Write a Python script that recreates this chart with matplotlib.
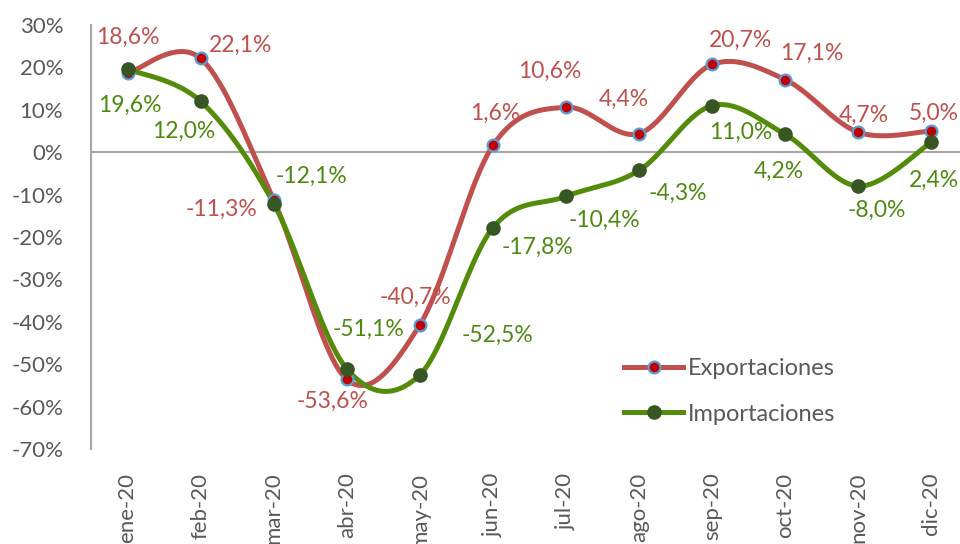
import numpy as np
import matplotlib
matplotlib.use('Agg')
import matplotlib.pyplot as plt

plt.rcParams['font.family'] = ['Lato', 'DejaVu Sans']

months = ['ene-20', 'feb-20', 'mar-20', 'abr-20', 'may-20', 'jun-20',
          'jul-20', 'ago-20', 'sep-20', 'oct-20', 'nov-20', 'dic-20']
exportaciones = [18.6, 22.1, -11.3, -53.6, -40.7, 1.6, 10.6, 4.4, 20.7, 17.1, 4.7, 5.0]
importaciones = [19.6, 12.0, -12.1, -51.1, -52.5, -17.8, -10.4, -4.3, 11.0, 4.2, -8.0, 2.4]
y_ticks = [30, 20, 10, 0, -10, -20, -30, -40, -50, -60, -70]

# label offsets in pixels (dx, dy), as placed in the original
exp_offsets = [(0, 36), (40, 13), (-52, -9), (-14, -22), (-4, 27), (2, 32),
               (-16, 36), (-15, 34), (28, 24), (27, 26), (5, 17), (2, 18)]
imp_offsets = [(2, -36), (-17, -30), (38, 27), (22, 40), (78, 39), (45, -20),
               (38, -24), (39, -23), (29, -27), (-6, -37), (18, -24), (2, -38)]

RED_LINE = '#C0504D'
GREEN_LINE = '#548B0A'
GREEN_TEXT = '#4F8A10'
GRAY = '#595959'


def smooth(y, n=40):
    """Excel-like smoothed line: cubic Bezier through the points."""
    y = np.asarray(y, dtype=float)
    x = np.arange(len(y), dtype=float)
    pts = np.column_stack([x, y])
    out = []
    for i in range(len(pts) - 1):
        p0 = pts[i - 1] if i > 0 else pts[i]
        p1 = pts[i]
        p2 = pts[i + 1]
        p3 = pts[i + 2] if i + 2 < len(pts) else pts[i + 1]
        c1 = p1 + (p2 - p0) / 6
        c2 = p2 - (p3 - p1) / 6
        t = np.linspace(0, 1, n)[:, None]
        seg = ((1 - t) ** 3) * p1 + 3 * ((1 - t) ** 2) * t * c1 + 3 * (1 - t) * t ** 2 * c2 + t ** 3 * p2
        out.append(seg if i == 0 else seg[1:])
    s = np.vstack(out)
    return s[:, 0], s[:, 1]


fig = plt.figure(figsize=(9.6, 5.44), dpi=100)
ax = fig.add_axes([91 / 960, 95 / 544, 877 / 960, 424 / 544])

x = np.arange(len(months))

sx, sy = smooth(exportaciones)
ax.plot(sx, sy, color=RED_LINE, lw=3.6, solid_capstyle='round', zorder=3)
sx, sy = smooth(importaciones)
ax.plot(sx, sy, color=GREEN_LINE, lw=3.6, solid_capstyle='round', zorder=4)

ax.plot(x, exportaciones, 'o', ms=8.5, mfc='#C00000', mec='#5B9BD5', mew=1.6, zorder=5)
ax.plot(x, importaciones, 'o', ms=9.5, mfc='#375623', mec='#375623', mew=1, zorder=6)

for xi, v, (dx, dy) in zip(x, exportaciones, exp_offsets):
    ax.annotate(f'{v:.1f}%'.replace('.', ','), (xi, v), xytext=(dx, dy),
                textcoords='offset pixels', ha='center', va='center',
                fontsize=16.5, color=RED_LINE, zorder=7)
for xi, v, (dx, dy) in zip(x, importaciones, imp_offsets):
    ax.annotate(f'{v:.1f}%'.replace('.', ','), (xi, v), xytext=(dx, dy),
                textcoords='offset pixels', ha='center', va='center',
                fontsize=16.5, color=GREEN_TEXT, zorder=7)

# legend entries mimic the Excel look
ax.plot([], [], color=RED_LINE, lw=3.6, marker='o', ms=8.5, mfc='#C00000',
        mec='#5B9BD5', mew=1.6, label='Exportaciones')
ax.plot([], [], color=GREEN_LINE, lw=3.6, marker='o', ms=9.5, mfc='#375623',
        mec='#375623', label='Importaciones')
leg = ax.legend(loc='upper left', bbox_to_anchor=(0.608, 0.215), frameon=False,
                fontsize=17, handlelength=2.5, handletextpad=0.2, labelspacing=1.05,
                borderaxespad=0, borderpad=0)
for t in leg.get_texts():
    t.set_color(GRAY)

ax.axhline(0, color='#A6A6A6', lw=1.5, zorder=1)
ax.set_xlim(-0.5, 11.5)
ax.set_ylim(-70, 30)
ax.set_yticks(y_ticks)
ax.set_yticklabels([f'{v}%' for v in y_ticks])
ax.set_xticks(x)
ax.set_xticklabels(months, rotation=90)
ax.tick_params(axis='both', length=0, labelsize=16, labelcolor=GRAY)
ax.tick_params(axis='x', pad=17)
ax.tick_params(axis='y', pad=20)

for side in ['top', 'right', 'bottom']:
    ax.spines[side].set_visible(False)
ax.spines['left'].set_color('#A6A6A6')
ax.spines['left'].set_linewidth(1.5)

fig.savefig('out.png', dpi=100, facecolor='white')
